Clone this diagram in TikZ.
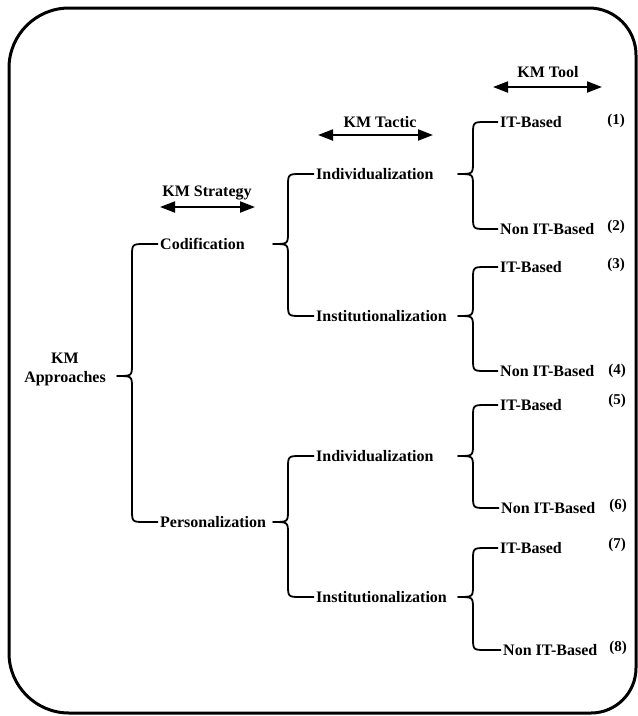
\documentclass[tikz,border=0pt]{standalone}
\usepackage{fontspec}
\setmainfont{Liberation Serif}
\usetikzlibrary{arrows.meta,calc}
\newlength\bvx \setlength\bvx{15pt}
\newlength\brr \setlength\brr{13pt}
\newlength\bcc \setlength\bcc{12pt}
\newcommand\kmbrace[3]{%
  \draw[bracel] let \p1=(#1), \p2=(#2.west), \p3=(#3.west) in
    (\p2) -- (\x1+\bvx+\brr,\y2) .. controls (\x1+\bvx,\y2) .. (\x1+\bvx,\y2-\brr)
    -- (\x1+\bvx,\y1+\bcc) .. controls (\x1+\bvx,\y1) .. (\x1,\y1)
    .. controls (\x1+\bvx,\y1) .. (\x1+\bvx,\y1-\bcc)
    -- (\x1+\bvx,\y3+\brr) .. controls (\x1+\bvx,\y3) .. (\x1+\bvx+\brr,\y3) -- (\p3);
}
\tikzset{
  txt/.style={font=\bfseries\fontsize{16}{19}\selectfont, inner sep=2pt, text height=10.5pt, text depth=0pt, anchor=west},
  hdr/.style={font=\bfseries\fontsize{16}{19}\selectfont, inner sep=0pt, anchor=center},
  num/.style={font=\bfseries\fontsize{15}{18}\selectfont, inner sep=0pt, anchor=center},
  bracel/.style={line width=1.8pt, line join=round},
  dbl/.style={line width=2pt, {Triangle[length=15pt,width=11pt]}-{Triangle[length=15pt,width=11pt]}},
}
\begin{document}
\begin{tikzpicture}[x=1pt,y=-1pt]
\useasboundingbox (0,0) rectangle (638,716);
% frame
\draw[line width=3pt] (320,8) [rounded corners=47pt] -- (636,8) -- (636,360)
  [rounded corners=45pt] -- (636,713) -- (320,713)
  [rounded corners=60pt] -- (9,713) -- (9,360) -- (9,8) -- (320,8);
% headers
\node[hdr] (hS) at (207,193) {KM Strategy};
\node[hdr] (hT) at (380,122) {KM Tactic};
\node[hdr] (hO) at (548,72) {KM Tool};
\coordinate (s1) at (160,207); \coordinate (s2) at (255,207);
\coordinate (t1) at (318,135); \coordinate (t2) at (433,135);
\coordinate (o1) at (493,87); \coordinate (o2) at (602,87);
\draw[dbl] (s1) -- (s2);
\draw[dbl] (t1) -- (t2);
\draw[dbl] (o1) -- (o2);
% level 0
\node[font=\bfseries\fontsize{16}{19}\selectfont, align=center, inner sep=0pt] (ap) at (65,369) {KM\\Approaches};
% level 1
\node[txt] (cod) at (158,244) {Codification};
\node[txt] (per) at (158,522) {Personalization};
% level 2
\node[txt] (ind1) at (314,174) {Individualization};
\node[txt] (ins1) at (314,316) {Institutionalization};
\node[txt] (ind2) at (314,456) {Individualization};
\node[txt] (ins2) at (314,597) {Institutionalization};
% level 3
\node[txt] (it1) at (498,122) {IT-Based};
\node[txt] (nit1) at (498,229) {Non IT-Based};
\node[txt] (it2) at (498,267) {IT-Based};
\node[txt] (nit2) at (498,371) {Non IT-Based};
\node[txt] (it3) at (498,405) {IT-Based};
\node[txt] (nit3) at (499,508) {Non IT-Based};
\node[txt] (it4) at (498,548) {IT-Based};
\node[txt] (nit4) at (501,650) {Non IT-Based};
% numbers
\node[num] (n1) at (616,121) {(1)};
\node[num] (n2) at (616,227) {(2)};
\node[num] (n3) at (616,265) {(3)};
\node[num] (n4) at (617,371) {(4)};
\node[num] (n5) at (617,401) {(5)};
\node[num] (n6) at (618,506) {(6)};
\node[num] (n7) at (617,545) {(7)};
\node[num] (n8) at (618,648) {(8)};
% cusp columns
\coordinate (col2) at (273,0);
\coordinate (col3) at (458,0);
\coordinate (c0) at (117,376);
\path (cod.east -| col2) coordinate (cC);
\path (per.east -| col2) coordinate (cP);
\path (ind1.east -| col3) coordinate (cI1);
\path (ins1.east -| col3) coordinate (cS1);
\path (ind2.east -| col3) coordinate (cI2);
\path (ins2.east -| col3) coordinate (cS2);
% braces
\kmbrace{c0}{cod}{per}
\kmbrace{cC}{ind1}{ins1}
\kmbrace{cP}{ind2}{ins2}
\kmbrace{cI1}{it1}{nit1}
\kmbrace{cS1}{it2}{nit2}
\kmbrace{cI2}{it3}{nit3}
\kmbrace{cS2}{it4}{nit4}
\end{tikzpicture}
\end{document}
